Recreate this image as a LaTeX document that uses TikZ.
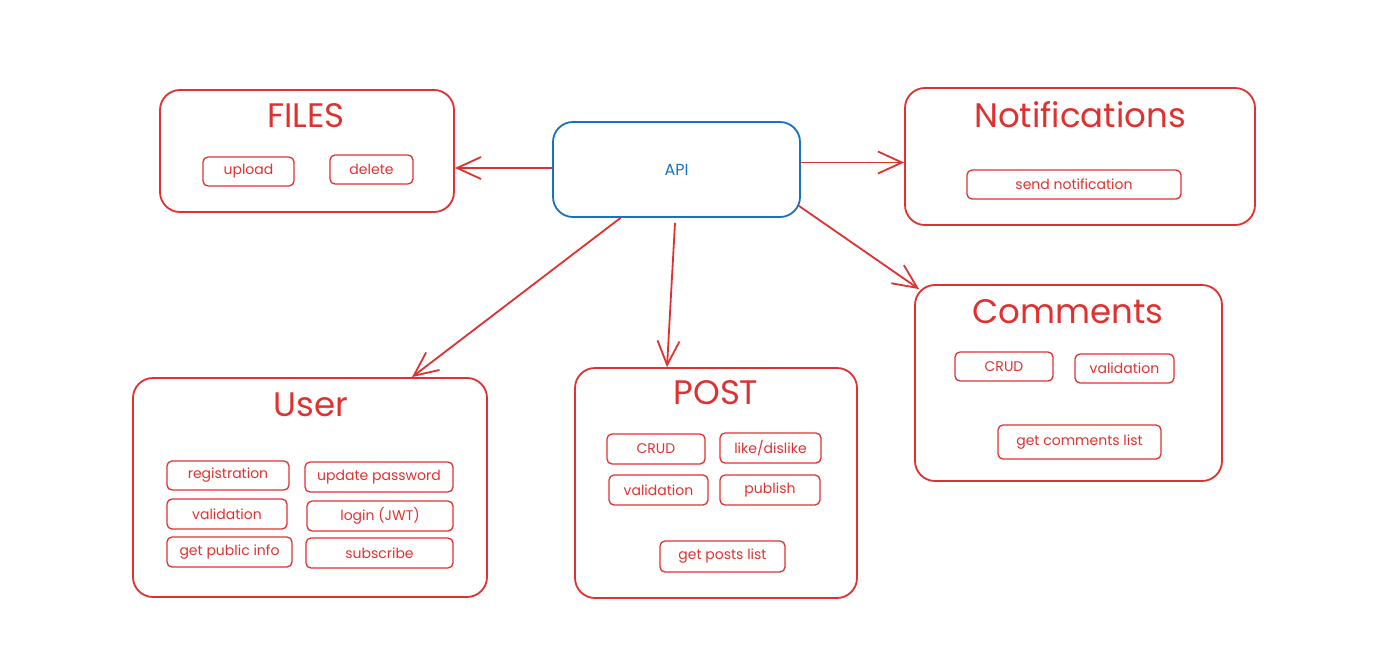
\documentclass[tikz,border=0pt]{standalone}
\usepackage{fontspec}
\setmainfont{Poppins}
\usepackage{xcolor}
\usepackage{tikz}
\usetikzlibrary{arrows.meta,positioning}
\definecolor{sketchred}{HTML}{E03131}
\definecolor{sketchblue}{HTML}{1971C2}
\tikzstyle{group} = [rectangle, draw=sketchred, line width=1.8pt, rounded corners=20pt]
\tikzstyle{title} = [text=sketchred, font=\fontsize{34}{38}\selectfont]
\tikzstyle{item} = [rectangle, draw=sketchred, line width=1.3pt, rounded corners=5pt, text=sketchred, font=\fontsize{14}{16}\selectfont, inner sep=0pt]
\tikzstyle{api} = [rectangle, draw=sketchblue, line width=1.8pt, rounded corners=20pt, text=sketchblue, font=\fontsize{16}{18}\selectfont, minimum width=247pt, minimum height=95pt]
\tikzstyle{arr} = [draw=sketchred, line width=1.8pt, -{Straight Barb[length=24pt,width=22pt,line width=1.8pt]}]

\begin{document}
\begin{tikzpicture}[x=1pt, y=-1pt]
	\useasboundingbox (0,0) rectangle (1375,655);
	\node[api] (api) at (676.5,169.5) {API};
	% FILES
	\node[group, minimum width=294pt, minimum height=122pt] (files) at (307,151) {};
	\node[title] (filest) at (306,116) {FILES};
	\node[item, minimum width=91pt, minimum height=29pt] (upload) at (248.5,171.5) {upload};
	\node[item, minimum width=83pt, minimum height=29pt] (delete) at (371.5,169.5) {delete};
	% Notifications
	\node[group, minimum width=350pt, minimum height=137pt] (notif) at (1080,156.5) {};
	\node[title] (notift) at (1080,115) {Notifications};
	\node[item, minimum width=214pt, minimum height=29pt] (send) at (1074,184.5) {send notification};
	% Comments
	\node[group, minimum width=307pt, minimum height=196pt] (comments) at (1068.5,383) {};
	\node[title] (commentst) at (1068,312) {Comments};
	\node[item, minimum width=98pt, minimum height=29pt] (ccrud) at (1004,366.5) {CRUD};
	\node[item, minimum width=99pt, minimum height=29pt] (cvalid) at (1124.5,368.5) {validation};
	\node[item, minimum width=163pt, minimum height=34pt] (clist) at (1079.5,442) {get comments list};
	% User
	\node[group, minimum width=354pt, minimum height=219pt] (user) at (310,487.5) {};
	\node[title] (usert) at (311,405) {User};
	\node[item, minimum width=122pt, minimum height=29pt] (reg) at (228,475.5) {registration};
	\node[item, minimum width=148pt, minimum height=30pt] (pass) at (379,477) {update password};
	\node[item, minimum width=120pt, minimum height=30pt] (uvalid) at (227,514) {validation};
	\node[item, minimum width=146pt, minimum height=30pt] (login) at (380,516) {login (JWT)};
	\node[item, minimum width=125pt, minimum height=30pt] (info) at (229.5,552) {get public info};
	\node[item, minimum width=147pt, minimum height=30pt] (sub) at (379.5,553) {subscribe};
	% POST
	\node[group, minimum width=282pt, minimum height=230pt] (post) at (716,483) {};
	\node[title] (postt) at (716,393) {POST};
	\node[item, minimum width=98pt, minimum height=30pt] (pcrud) at (656,449) {CRUD};
	\node[item, minimum width=101pt, minimum height=30pt] (like) at (770.5,448) {like/dislike};
	\node[item, minimum width=99pt, minimum height=30pt] (pvalid) at (658.5,490) {validation};
	\node[item, minimum width=100pt, minimum height=30pt] (publish) at (770,490) {publish};
	\node[item, minimum width=125pt, minimum height=31pt] (plist) at (722.5,556.5) {get posts list};
	% connectors
	\draw[arr] ([yshift=1.5pt]api.west) -- ([yshift=1.5pt]api.west -| files.east);
	\draw[arr] ([yshift=7pt]api.east) -- ([yshift=7pt]api.east -| notif.west);
	\draw[arr] ([xshift=-2pt,yshift=12pt]api.south east) -- ([xshift=5pt,yshift=-5pt]comments.north west);
	\draw[arr] ([xshift=-56pt]api.south) -- ([xshift=102pt]user.north);
	\draw[arr] ([xshift=-1.5pt,yshift=-5pt]api.south) -- ([xshift=-49pt]post.north);
\end{tikzpicture}
\end{document}
